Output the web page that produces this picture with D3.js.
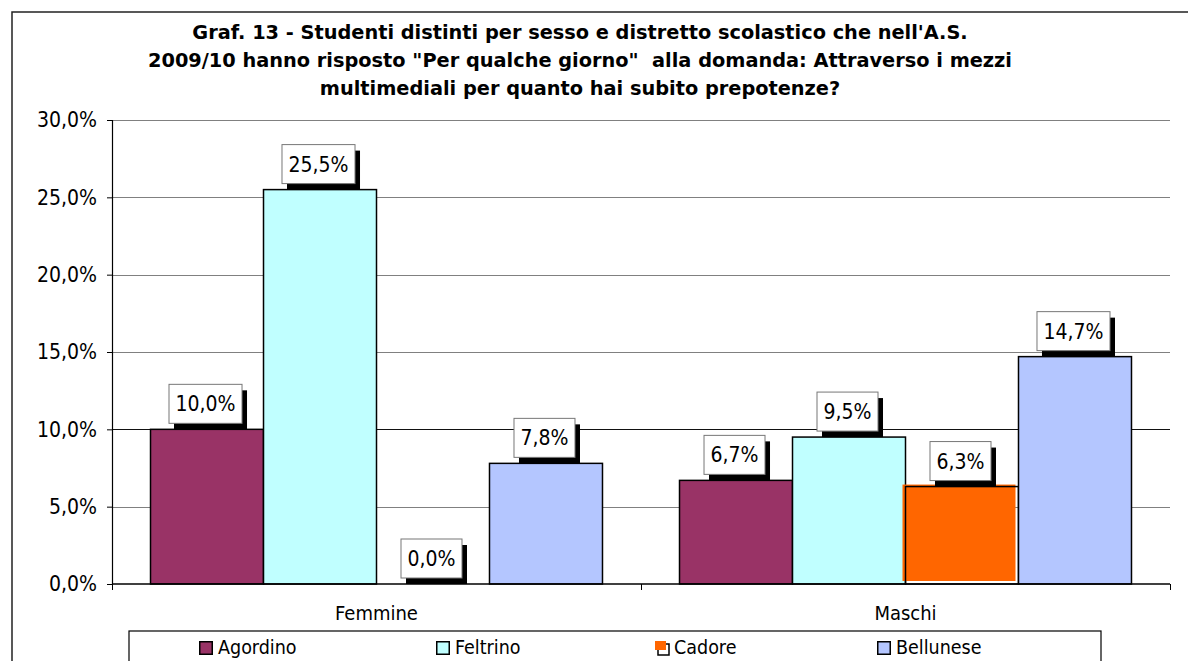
<!DOCTYPE html>
<html>
<head>
<meta charset="utf-8">
<script src="https://cdn.jsdelivr.net/npm/d3@7"></script>
<style>
  html, body { margin: 0; padding: 0; background: #fff; }
  svg { display: block; }
  text { font-family: "DejaVu Sans Condensed", "Noto Sans", sans-serif; fill: #000; }
</style>
</head>
<body>
<svg id="chart" width="1188" height="661"></svg>
<script>
// Percent of students per sex and school district
const categories = ["Femmine", "Maschi"];
const seriesNames = ["Agordino", "Feltrino", "Cadore", "Bellunese"];
const agordino  = [10.0, 6.7];
const feltrino  = [25.5, 9.5];
const cadore    = [0.0, 6.3];
const bellunese = [7.8, 14.7];
const yTicks = [0, 5, 10, 15, 20, 25, 30];
const seriesColors = ["#993366", "#c0ffff", "#ff6600", "#b4c6ff"];
const titleLines = [
  "Graf. 13 - Studenti distinti per sesso e distretto scolastico che nell'A.S.",
  "2009/10 hanno risposto \"Per qualche giorno\"  alla domanda: Attraverso i mezzi",
  "multimediali per quanto hai subito prepotenze?"
];

const seriesValues = [agordino, feltrino, cadore, bellunese];
const fmt = v => d3.format(".1f")(v).replace(".", ",") + "%";

const svg = d3.select("#chart");

// outer chart frame (continues past the right and bottom edges)
svg.append("rect")
  .attr("x", 12).attr("y", 12).attr("width", 1300).attr("height", 800)
  .attr("fill", "#fff").attr("stroke", "#222").attr("stroke-width", 1.5);

// title, bold, three centred lines
const titleCenter = 580;
const titleTexts = svg.append("g").selectAll("text").data(titleLines).join("text")
  .attr("x", titleCenter)
  .attr("y", (d, i) => 39 + i * 28)
  .attr("text-anchor", "middle")
  .style("font-family", "'DejaVu Sans', sans-serif")
  .style("font-weight", "bold")
  .style("font-size", "19.5px")
  .attr("xml:space", "preserve")
  .text(d => d);
const natural = titleTexts.nodes().map(n => n.getComputedTextLength());
const k = 864 / natural[1];
titleTexts.attr("textLength", (d, i) => natural[i] * k).attr("lengthAdjust", "spacingAndGlyphs");

// scales
const plotLeft = 112, plotRight = 1170, plotTop = 120, plotBottom = 584;
const x0 = d3.scaleBand().domain(categories).range([plotLeft, plotRight])
  .paddingInner(0.1456).paddingOuter(0.0728);
const x1 = d3.scaleBand().domain(seriesNames).range([0, x0.bandwidth()]);
const y = d3.scaleLinear().domain([0, 30]).range([plotBottom, plotTop]);

// gridlines
svg.append("g").selectAll("line").data(yTicks.filter(t => t > 0)).join("line")
  .attr("x1", plotLeft).attr("x2", plotRight)
  .attr("y1", d => Math.round(y(d)) + 0.5).attr("y2", d => Math.round(y(d)) + 0.5)
  .attr("stroke", d => d === 10 ? "#111" : "#808080").attr("stroke-width", 1.2);

// y axis
const yAxis = svg.append("g").attr("transform", `translate(${plotLeft},0)`)
  .call(d3.axisLeft(y).tickValues(yTicks).tickSize(5).tickPadding(10).tickFormat(fmt));
yAxis.select(".domain").attr("stroke", "#000").attr("stroke-width", 1.2);
yAxis.selectAll(".tick line").attr("stroke", "#000");
yAxis.selectAll(".tick text").style("font-size", "21px").style("font-family", null);

// bars
const barData = [];
categories.forEach((c, ci) => {
  seriesNames.forEach((s, si) => {
    barData.push({ cat: c, series: s, value: seriesValues[si][ci], color: seriesColors[si], si });
  });
});

const barsG = svg.append("g");
barData.forEach(d => {
  const bx = x0(d.cat) + x1(d.series);
  const bw = x1.bandwidth();
  const by = y(d.value);
  const bh = y(0) - by;
  if (bh <= 0) return;
  if (d.series === "Cadore") {
    // Cadore fill sits slightly offset from its outline
    barsG.append("rect").attr("x", bx - 3).attr("y", by - 2).attr("width", bw).attr("height", bh - 1)
      .attr("fill", d.color);
    barsG.append("rect").attr("x", bx).attr("y", by).attr("width", bw).attr("height", bh)
      .attr("fill", "none").attr("stroke", "#000").attr("stroke-width", 1.5);
  } else {
    barsG.append("rect").attr("x", bx).attr("y", by).attr("width", bw).attr("height", bh)
      .attr("fill", d.color).attr("stroke", "#000").attr("stroke-width", 1.5);
  }
});

// x axis line and category ticks
svg.append("line").attr("x1", plotLeft).attr("x2", plotRight)
  .attr("y1", plotBottom).attr("y2", plotBottom).attr("stroke", "#000").attr("stroke-width", 1.5);
const catEdges = [plotLeft, (plotLeft + plotRight) / 2, plotRight];
svg.append("g").selectAll("line").data(catEdges).join("line")
  .attr("x1", d => Math.round(d) + 0.5).attr("x2", d => Math.round(d) + 0.5)
  .attr("y1", plotBottom).attr("y2", plotBottom + 6).attr("stroke", "#000");
svg.append("g").selectAll("text").data(categories).join("text")
  .attr("x", d => x0(d) + x0.bandwidth() / 2)
  .attr("y", 620)
  .attr("text-anchor", "middle")
  .style("font-size", "20px")
  .text(d => d);

// data labels: white box with black drop shadow
const labelsG = svg.append("g");
barData.forEach(d => {
  const cx = x0(d.cat) + x1(d.series) + x1.bandwidth() / 2 - 1.5;
  const top = y(d.value);
  const g = labelsG.append("g");
  const t = g.append("text").attr("x", cx).attr("text-anchor", "middle")
    .style("font-size", "21px").text(fmt(d.value));
  const tw = t.node().getComputedTextLength();
  const bw = tw + 13, bh = 39;
  const bx = cx - bw / 2, by = top - 6 - bh;
  g.insert("rect", "text").attr("x", bx + 5).attr("y", by + 6).attr("width", bw).attr("height", bh)
    .attr("fill", "#000");
  g.insert("rect", "text").attr("x", bx).attr("y", by).attr("width", bw).attr("height", bh)
    .attr("fill", "#fff").attr("stroke", "#777").attr("stroke-width", 1);
  t.attr("y", by + 27);
});

// legend
const legendG = svg.append("g");
legendG.append("rect").attr("x", 129).attr("y", 631).attr("width", 972).attr("height", 80)
  .attr("fill", "#fff").attr("stroke", "#000").attr("stroke-width", 1.2);
const legendSlots = [199, 436, 655, 877];
seriesNames.forEach((s, i) => {
  const lx = legendSlots[i];
  const item = legendG.append("g");
  if (s === "Cadore") {
    item.append("rect").attr("x", lx + 3).attr("y", 644).attr("width", 11).attr("height", 11)
      .attr("fill", "#fff").attr("stroke", "#000").attr("stroke-width", 1.5);
    item.append("rect").attr("x", lx).attr("y", 641).attr("width", 11).attr("height", 9)
      .attr("fill", seriesColors[i]);
  } else {
    item.append("rect").attr("x", lx + 0.75).attr("y", 641.75).attr("width", 12.5).attr("height", 12.5)
      .attr("fill", seriesColors[i]).attr("stroke", "#000").attr("stroke-width", 1.5);
  }
  item.append("text").attr("x", lx + 19).attr("y", 654)
    .style("font-size", "19.5px").text(s);
});
</script>
</body>
</html>
